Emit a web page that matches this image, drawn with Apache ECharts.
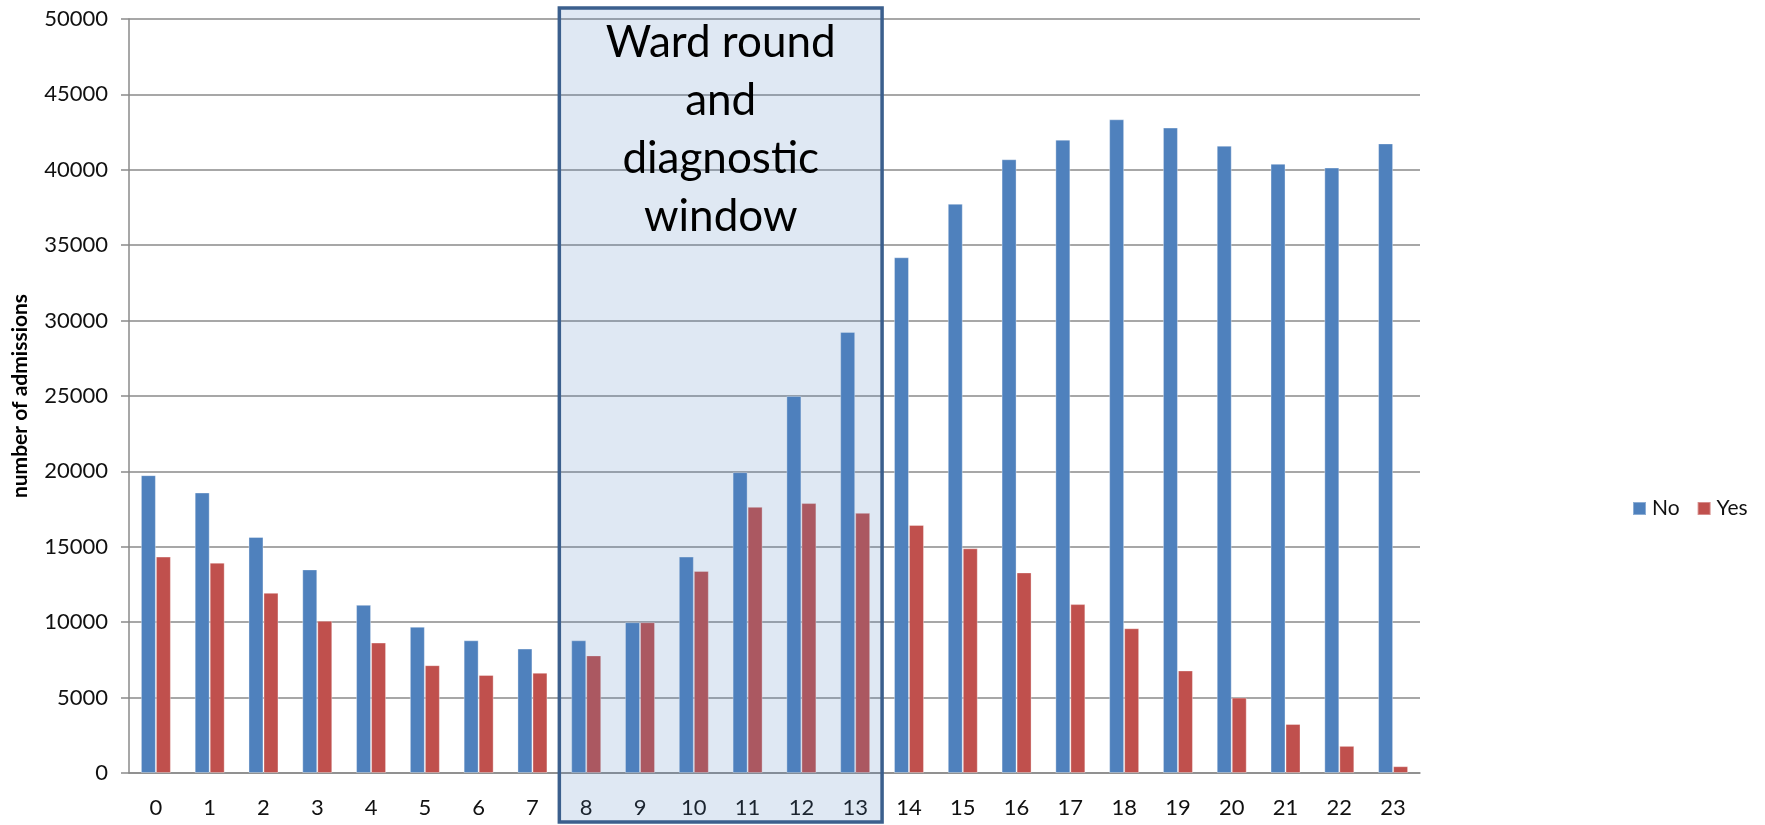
<!DOCTYPE html>
<html>
<head>
<meta charset="utf-8">
<script src="https://cdn.jsdelivr.net/npm/echarts@6/dist/echarts.min.js"></script>
<style>
  html, body { margin: 0; padding: 0; background: #fff; }
  #chart { width: 1765px; height: 825px; }
</style>
</head>
<body>
<div id="chart"></div>
<script>
// hour of admission
const hours = ['0', '1', '2', '3', '4', '5', '6', '7', '8', '9', '10', '11',
  '12', '13', '14', '15', '16', '17', '18', '19', '20', '21', '22', '23']

const noValues = [19750, 18600, 15650, 13500, 11150, 9700, 8800, 8250, 8800, 10000, 14350, 19950,
  25000, 29250, 34200, 37750, 40700, 42000, 43350, 42800, 41600, 40400, 40150, 41750]
const yesValues = [14350, 13950, 11950, 10100, 8650, 7150, 6500, 6650, 7800, 10000, 13400, 17650,
  17900, 17250, 16450, 14900, 13300, 11200, 9600, 6800, 5000, 3250, 1800, 450]

const yTicks = { min: 0, max: 50000, step: 5000 }

// the highlighted window, from first to last hour
const windowHours = ['8', '13']
const windowText = 'Ward round\nand\ndiagnostic\nwindow'

const gridColor = '#8a8a8a'
const font = 'Lato, "Open Sans", sans-serif'

const chart = echarts.init(document.getElementById('chart'))

chart.setOption({
  animation: false,
  grid: {
    left: 129,
    right: 345,
    top: 19,
    bottom: 52
  },
  legend: {
    data: ['No', 'Yes'],
    left: 1627,
    top: 493,
    icon: 'rect',
    itemWidth: 13,
    itemHeight: 13,
    itemGap: 17,
    textStyle: {
      fontFamily: font,
      fontSize: 21,
      color: '#111',
      padding: [0, 0, 0, 1]
    }
  },
  xAxis: {
    type: 'category',
    data: hours,
    axisLine: { lineStyle: { color: gridColor, width: 1.5 } },
    axisTick: { length: 9, lineStyle: { color: gridColor, width: 1.5 } },
    axisLabel: {
      margin: 24,
      fontFamily: font,
      fontSize: 22,
      color: '#111'
    }
  },
  yAxis: {
    type: 'value',
    min: yTicks.min,
    max: yTicks.max,
    interval: yTicks.step,
    name: 'number of admissions',
    nameLocation: 'middle',
    nameGap: 98,
    nameTextStyle: {
      fontFamily: font,
      fontWeight: 'bold',
      fontSize: 21,
      color: '#000'
    },
    axisLine: { show: true, lineStyle: { color: gridColor, width: 1.5 } },
    axisTick: { show: true, length: 8, lineStyle: { color: gridColor, width: 1.5 } },
    splitLine: { lineStyle: { color: gridColor, width: 1.5 } },
    axisLabel: {
      margin: 21,
      fontFamily: font,
      fontSize: 22,
      color: '#111',
      formatter: (v) => String(v)
    }
  },
  series: [{
    name: 'No',
    type: 'bar',
    data: noValues,
    barWidth: 15,
    barGap: '0%',
    itemStyle: { color: '#4f81bd', borderColor: 'rgba(255,255,255,0.35)', borderWidth: 1 }
  }, {
    name: 'Yes',
    type: 'bar',
    data: yesValues,
    barWidth: 15,
    itemStyle: { color: '#c0504d', borderColor: 'rgba(255,255,255,0.35)', borderWidth: 1 }
  }]
})

// place the window box from the category scale
const c0 = chart.convertToPixel({ xAxisIndex: 0 }, windowHours[0])
const c1 = chart.convertToPixel({ xAxisIndex: 0 }, windowHours[1])
const step = chart.convertToPixel({ xAxisIndex: 0 }, '1') - chart.convertToPixel({ xAxisIndex: 0 }, '0')
const boxLeft = c0 - step / 2
const boxRight = c1 + step / 2

chart.setOption({
  graphic: [{
    type: 'rect',
    z: 100,
    shape: { x: boxLeft, y: 8, width: boxRight - boxLeft, height: 814 },
    style: {
      fill: 'rgba(79,129,189,0.18)',
      stroke: '#3b5f8d',
      lineWidth: 3.5
    }
  }, {
    type: 'text',
    z: 101,
    x: (boxLeft + boxRight) / 2,
    y: 130,
    style: {
      text: windowText,
      fill: '#000',
      font: '44px ' + font,
      lineHeight: 58,
      align: 'center',
      verticalAlign: 'middle'
    }
  }]
})
</script>
</body>
</html>
